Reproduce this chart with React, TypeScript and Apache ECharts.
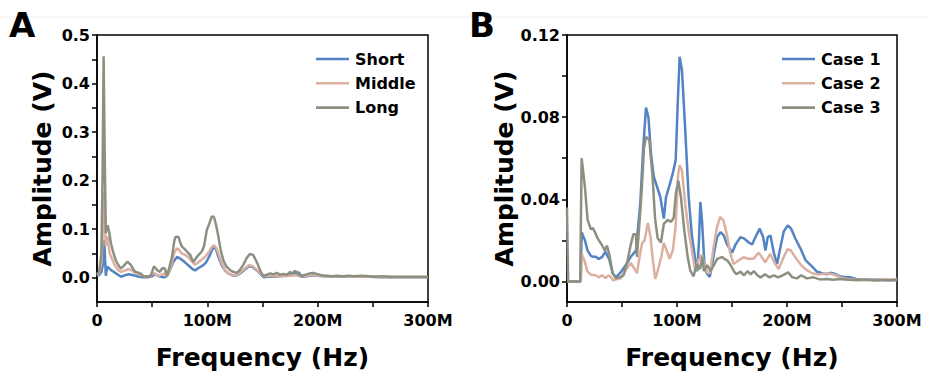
import React, { useEffect, useRef } from "react";
import * as echarts from "echarts";

// ---------- Panel A data (frequency in MHz, amplitude in V) ----------
const shortA: [number, number][] = [
  [0,0.004],[2,0.006],[4,0.012],[5.5,0.03],[6.5,0.078],[7.5,0.03],[8,0.004],[9,0.02],[10,0.022],[11.5,0.018],[14,0.014],[16,0.011],[19,0.006],[21.8,0.002],[25,0.005],[29,0.007],[33,0.005],[38,0.002],[42,0.001],[46,0.001],[50,0.003],[53,0.008],[55,0.004],[58,0.002],[61,0.001],[63,0.003],[66,0.015],[69,0.032],[72.7,0.043],[75,0.04],[78,0.035],[81,0.029],[84,0.023],[86.5,0.018],[88.8,0.015],[92,0.02],[96.4,0.026],[99,0.032],[102,0.045],[104,0.056],[106,0.064],[108,0.058],[110,0.043],[113,0.026],[116,0.015],[119,0.009],[123.7,0.004],[127,0.005],[131,0.011],[134,0.017],[138,0.024],[141,0.022],[145,0.015],[148,0.008],[151,0.001],[155,0.002],[160,0.002],[165,0.003],[170,0.004],[175,0.007],[178,0.01],[180,0.008],[183,0.011],[185,0.002],[190,0.003],[195,0.005],[200,0.004],[206,0.003],[212,0.003],[220,0.002],[228,0.003],[236,0.002],[244,0.003],[250,0.002],[258,0.001],[268,0.001],[280,0.001],[290,0.001],[300,0.001]
];
const middleA: [number, number][] = [
  [0,0.006],[2,0.01],[4,0.03],[5,0.08],[6,0.178],[7,0.12],[8,0.065],[9.5,0.085],[11.5,0.05],[13,0.042],[16,0.026],[19,0.016],[21.8,0.012],[25,0.015],[29,0.018],[32,0.014],[36.5,0.008],[40,0.006],[44,0.001],[48,0.003],[51.5,0.01],[54,0.006],[56,0.004],[59,0.007],[61,0.009],[63.5,0.003],[66,0.015],[68,0.03],[70,0.052],[72.7,0.061],[74.5,0.057],[76.7,0.05],[79,0.048],[82.7,0.043],[85.5,0.035],[88.8,0.027],[92,0.032],[96.4,0.04],[99,0.046],[102,0.055],[104,0.063],[106.1,0.067],[108,0.062],[110,0.05],[113,0.03],[116,0.016],[119,0.009],[123.7,0.004],[127,0.006],[131,0.013],[134,0.019],[138,0.026],[141,0.024],[144.9,0.016],[148,0.009],[151,0.003],[155,0.004],[160,0.003],[165,0.004],[170,0.003],[175,0.004],[180,0.005],[184,0.003],[190,0.004],[195,0.006],[200,0.004],[206,0.003],[212,0.002],[220,0.003],[228,0.002],[236,0.002],[245,0.002],[255,0.001],[265,0.002],[275,0.001],[285,0.001],[300,0.001]
];
const longA: [number, number][] = [
  [0,0.008],[2,0.012],[4,0.05],[5,0.2],[6,0.456],[7,0.25],[8,0.092],[9.6,0.108],[11,0.095],[12.6,0.071],[15,0.05],[17,0.036],[19.5,0.025],[21.5,0.019],[24,0.024],[27.5,0.033],[30.5,0.027],[33,0.017],[35,0.012],[38,0.010],[40,0.008],[42.5,0.002],[45,0.003],[47,0.002],[49,0.006],[51.5,0.023],[53,0.02],[54.5,0.016],[57,0.012],[59,0.019],[61,0.02],[62,0.016],[63.5,0.003],[66,0.025],[68,0.043],[70,0.075],[71,0.083],[72.5,0.085],[74,0.083],[75.5,0.072],[77,0.064],[79,0.06],[81.5,0.054],[84.5,0.047],[87,0.033],[88.5,0.036],[90.5,0.043],[93,0.049],[95,0.054],[97,0.065],[99.5,0.098],[102,0.113],[104,0.126],[106,0.125],[108,0.108],[110,0.085],[112,0.058],[114.5,0.036],[117,0.024],[120.5,0.016],[123.5,0.012],[126.5,0.01],[129.5,0.016],[132.5,0.026],[135.5,0.04],[138.5,0.049],[141.5,0.047],[144,0.036],[146,0.026],[148.5,0.012],[150.5,0.004],[154,0.006],[157,0.009],[160,0.007],[163,0.01],[166,0.006],[169,0.008],[172,0.006],[175,0.012],[177,0.008],[179,0.014],[181,0.012],[183,0.006],[186,0.004],[190,0.007],[193,0.009],[196,0.01],[199,0.008],[203,0.005],[208,0.004],[213,0.003],[218,0.004],[223,0.003],[228,0.004],[233,0.003],[240,0.004],[246,0.003],[252,0.002],[258,0.003],[265,0.002],[272,0.002],[280,0.002],[288,0.002],[295,0.002],[300,0.002]
];

// ---------- Panel B data ----------
const case1B: [number, number][] = [
  [0,0],[12.5,0],[13.3,0.024],[16.3,0.020],[18.7,0.015],[21.7,0.0125],[24,0.012],[26,0.012],[29,0.011],[32,0.012],[35,0.0145],[38.5,0.0106],[41.5,0.004],[44.5,0.002],[49,0.0045],[53.5,0.008],[58,0.012],[62.7,0.015],[66.6,0.038],[69.3,0.065],[71.8,0.0847],[74,0.080],[76.4,0.062],[78.9,0.051],[81.9,0.046],[84.9,0.041],[88,0.0306],[90,0.041],[93.3,0.047],[96.3,0.053],[98.8,0.059],[100.9,0.090],[102.4,0.1094],[104.5,0.103],[107.5,0.0737],[110.6,0.041],[113.6,0.022],[116.6,0.0106],[118.5,0.005],[120,0.02],[121.2,0.0387],[122.7,0.030],[124.8,0.0098],[127,0.004],[129.7,0.0022],[131.9,0.0077],[134,0.015],[136.5,0.0216],[139.5,0.024],[142.5,0.0224],[145.6,0.018],[150.1,0.014],[153.2,0.018],[157.7,0.0216],[160.7,0.021],[165.3,0.019],[168.3,0.018],[171.3,0.0216],[175.2,0.0257],[178.3,0.0216],[180.4,0.0151],[182.5,0.0216],[185,0.0224],[188,0.014],[191,0.0085],[194,0.0166],[197.1,0.0244],[200.7,0.0273],[203.8,0.0257],[207.7,0.0208],[212.3,0.016],[216.8,0.0104],[222.9,0.0072],[227.4,0.0047],[232,0.004],[236,0.0035],[239.5,0.0042],[244,0.0036],[248.6,0.0024],[253,0.0022],[257.7,0.002],[263,0.0012],[270,0.001],[277,0.0008],[284,0.001],[292,0.0006],[300,0.0008]
];
const case2B: [number, number][] = [
  [0,0],[12.5,0],[13.3,0.0135],[16,0.010],[18.5,0.0049],[21.7,0.0033],[26,0.003],[29,0.002],[32,0.003],[35,0.0016],[38,0.003],[40,0.002],[42,0.0005],[44.5,0.001],[49,0.0016],[53.5,0.0057],[58,0.009],[61,0.0065],[63.6,0.004],[65.8,0.0114],[68.3,0.0187],[70.5,0.020],[73.5,0.0285],[76,0.0215],[78,0.0106],[80.2,0.0013],[82.7,0.0057],[85.7,0.012],[88,0.0187],[90.3,0.0155],[93.3,0.011],[96.3,0.0155],[98.8,0.027],[100.9,0.0514],[102.4,0.0566],[104.5,0.054],[107.5,0.0376],[110.6,0.0246],[113.6,0.015],[116.6,0.0049],[119.6,0.0106],[122.6,0.013],[125.6,0.007],[128,0.004],[130.1,0.0044],[133.2,0.0166],[136.2,0.026],[139.2,0.0314],[142.2,0.0297],[145.3,0.023],[148.3,0.014],[151.4,0.0085],[155.9,0.0102],[160.5,0.0118],[165,0.011],[169.6,0.011],[174.2,0.014],[177.2,0.0118],[180.2,0.0093],[184.8,0.0134],[189.3,0.0085],[192.4,0.006],[196.9,0.0118],[200.6,0.0158],[203.6,0.015],[207.5,0.0118],[212.1,0.0085],[216.7,0.006],[222.7,0.004],[228.8,0.0034],[236.4,0.004],[242.4,0.0034],[248.5,0.002],[255,0.0012],[262,0.0008],[270,0.001],[278,0.0006],[286,0.001],[294,0.0008],[300,0.0012]
];
const case3B: [number, number][] = [
  [0,0.036],[1,0],[12,0],[13.3,0.060],[16.3,0.046],[18.7,0.030],[21.7,0.0254],[23.5,0.026],[25.4,0.024],[27.8,0.021],[31.5,0.018],[34.5,0.015],[36.3,0.0175],[38.5,0.013],[41.5,0.004],[44.5,0.0015],[47.5,0.002],[51.5,0.003],[55,0.010],[58,0.018],[60.3,0.023],[62.7,0.023],[63.6,0.012],[65.8,0.028],[68,0.045],[70,0.065],[71.8,0.0704],[74.8,0.069],[77.8,0.051],[80,0.031],[82.4,0.021],[85.4,0.019],[88,0.028],[91.5,0.030],[94.6,0.029],[97,0.031],[99,0.043],[101.2,0.049],[103.6,0.041],[106.6,0.025],[109.7,0.012],[112,0.0054],[115,0.0025],[118,0.0084],[121,0.006],[123,0.012],[124.5,0.005],[127.5,0.008],[130.5,0.005],[133.5,0.008],[136.6,0.011],[139,0.0115],[141,0.012],[143,0.011],[145.6,0.0103],[148.7,0.008],[151.7,0.005],[154,0.0035],[157.7,0.0048],[161,0.003],[164,0.005],[167,0.0035],[170,0.005],[173,0.003],[176,0.002],[180,0.0035],[184,0.002],[188,0.003],[192,0.002],[196,0.003],[201,0.0044],[205,0.002],[209,0.0015],[213,0.003],[218,0.0015],[224,0.002],[230,0.001],[236,0.0012],[242,0.0008],[248,0.0012],[256,0.0008],[264,0.0006],[272,0.0008],[282,0.0005],[292,0.0007],[300,0.0006]
];

// ---------- Axis ticks / labels ----------
const xLabelValues = [0, 100, 200, 300];
const xTickValues = [0, 50, 100, 150, 200, 250, 300];
const yLabelsA = [0, 0.1, 0.2, 0.3, 0.4, 0.5];
const yTicksA = [0, 0.05, 0.1, 0.15, 0.2, 0.25, 0.3, 0.35, 0.4, 0.45, 0.5];
const yLabelsB = [0, 0.04, 0.08, 0.12];
const yTicksB = [0, 0.02, 0.04, 0.06, 0.08, 0.1, 0.12];

const namesA = ["Short", "Middle", "Long"];
const namesB = ["Case 1", "Case 2", "Case 3"];
const COLORS = ["#5283c2", "#dcb0a0", "#8c9080"];

const FONT = "DejaVu Sans";

export default function App() {
  const ref = useRef<HTMLDivElement>(null);
  useEffect(() => {
    document.body.style.margin = "0";
    if (!ref.current) return;
    const chart = echarts.init(ref.current, undefined, { renderer: "svg" });

    const axisText = { fontFamily: FONT, fontWeight: "bold" as const, fontSize: 16, color: "#000" };
    const nameText = { fontFamily: FONT, fontWeight: "bold" as const, fontSize: 25, color: "#000" };
    const axisLine = { show: true, onZero: false, lineStyle: { color: "#000", width: 1.5 } };

    const xAxis = (gi: number) => ({
      type: "value",
      gridIndex: gi,
      min: 0,
      max: 300,
      name: "Frequency (Hz)",
      nameLocation: "middle",
      nameGap: 43,
      nameTextStyle: nameText,
      axisLine,
      axisTick: { show: true, length: 5, customValues: xTickValues, lineStyle: { color: "#000", width: 1.5 } },
      axisLabel: {
        ...axisText,
        margin: 10,
        customValues: xLabelValues,
        formatter: (v: number) => (v === 0 ? "0" : `${v}M`),
      },
      splitLine: { show: false },
    });
    const yAxis = (gi: number, min: number, max: number, labels: number[], ticks: number[], digits: number) => ({
      type: "value",
      gridIndex: gi,
      min,
      max,
      name: "Amplitude (V)",
      nameLocation: "middle",
      nameGap: 42,
      nameRotate: 90,
      nameTextStyle: nameText,
      axisLine,
      axisTick: { show: true, length: 5, customValues: ticks, lineStyle: { color: "#000", width: 1.5 } },
      axisLabel: {
        ...axisText,
        margin: 7,
        customValues: labels,
        formatter: (v: number) => v.toFixed(digits),
      },
      splitLine: { show: false },
    });

    const lineSeries = (name: string, data: [number, number][], idx: number, color: string) => ({
      type: "line",
      name,
      data,
      xAxisIndex: idx,
      yAxisIndex: idx,
      showSymbol: false,
      symbol: "none",
      lineStyle: { color, width: 2.5 },
      itemStyle: { color },
      z: 3,
    });

    const legend = (left: number, data: string[]) => ({
      left,
      top: 51,
      orient: "vertical",
      data,
      icon: "rect",
      itemWidth: 33,
      itemHeight: 2.6,
      itemGap: 8.3,
      padding: 0,
      textStyle: { fontFamily: FONT, fontWeight: "bold", fontSize: 16, color: "#000", lineHeight: 16, padding: [0, 0, 0, 1] },
    });

    chart.setOption({
      animation: false,
      backgroundColor: "#fff",
      grid: [
        { left: 97, top: 35, width: 331, height: 267, show: true, borderColor: "#000", borderWidth: 1.5, containLabel: false },
        { left: 567, top: 35, width: 330, height: 267, show: true, borderColor: "#000", borderWidth: 1.5, containLabel: false },
      ],
      xAxis: [xAxis(0), xAxis(1)],
      yAxis: [
        yAxis(0, -0.05, 0.5, yLabelsA, yTicksA, 1),
        yAxis(1, -0.01, 0.12, yLabelsB, yTicksB, 2),
      ],
      legend: [legend(316, namesA), legend(782, namesB)],
      series: [
        lineSeries(namesA[0], shortA, 0, COLORS[0]),
        lineSeries(namesA[1], middleA, 0, COLORS[1]),
        lineSeries(namesA[2], longA, 0, COLORS[2]),
        lineSeries(namesB[0], case1B, 1, COLORS[0]),
        lineSeries(namesB[1], case2B, 1, COLORS[1]),
        lineSeries(namesB[2], case3B, 1, COLORS[2]),
      ],
      graphic: [
        { type: "line", shape: { x1: 0, y1: 17, x2: 929, y2: 17 }, style: { stroke: "#f0f0f0", lineWidth: 1 }, z: 0 },
        { type: "text", left: 9, top: 8, style: { text: "A", fontFamily: FONT, fontWeight: "bold", fontSize: 34, fill: "#000" } },
        { type: "text", left: 469, top: 8, style: { text: "B", fontFamily: FONT, fontWeight: "bold", fontSize: 34, fill: "#000" } },
      ],
    });
    return () => chart.dispose();
  }, []);
  return <div ref={ref} style={{ width: 929, height: 387 }} />;
}
